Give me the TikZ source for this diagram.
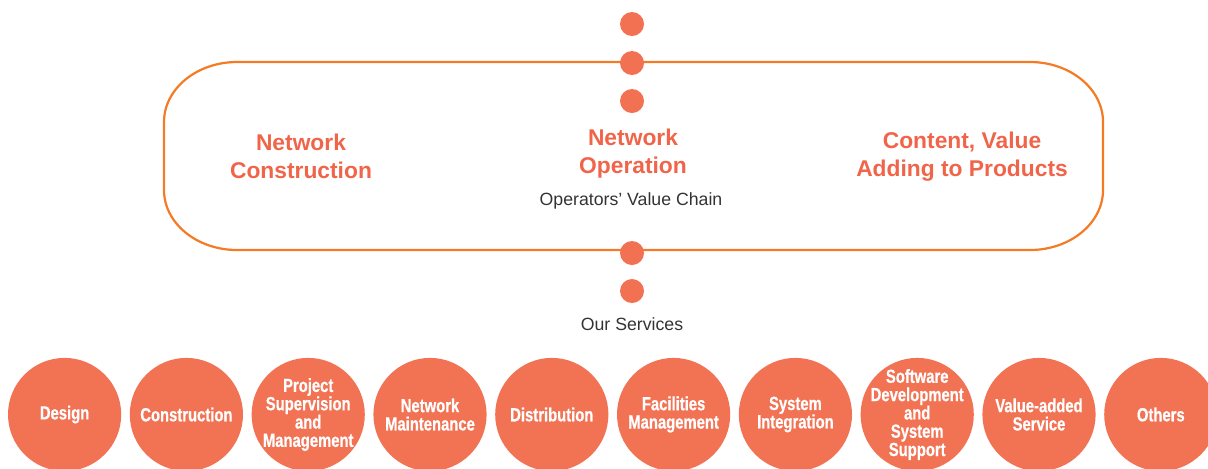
\documentclass[tikz,border=0pt]{standalone}
\usepackage{fontspec}
\setmainfont{Liberation Sans}
\newfontfamily\condfont[FakeStretch=0.78,FakeBold=0.6]{Liberation Sans}
\definecolor{outl}{HTML}{F47A24}
\definecolor{dotc}{HTML}{F37153}
\definecolor{headc}{HTML}{F0654A}
\definecolor{svcc}{HTML}{F27254}
\definecolor{greytext}{HTML}{333333}
\tikzset{
  dotnode/.style={circle,fill=dotc,inner sep=0pt,minimum size=12pt},
  headtext/.style={align=center,text=headc,font=\fontsize{11.4pt}{14pt}\selectfont\bfseries,inner sep=0pt},
  subtext/.style={text=greytext,font=\fontsize{8.85pt}{10pt}\selectfont,inner sep=0pt},
  svcnode/.style={circle,fill=svcc,inner sep=0pt,minimum size=56.6pt},
  svctext/.style={align=center,text=white,font=\condfont\bfseries\fontsize{9.5pt}{9.15pt}\selectfont,inner sep=0pt},
  chain/.style={draw=outl,line width=1.1pt}
}
\begin{document}
\begin{tikzpicture}[x=0.5pt,y=-0.5pt]
\useasboundingbox (0,0) rectangle (1208,468);
\clip (0,0) rectangle (1208,468);
% value chain outline
\draw[chain] (237,62) -- (1030,62) .. controls (1070.3,62) and (1103,88.9) .. (1103,122)
  -- (1103,190) .. controls (1103,223.1) and (1070.3,250) .. (1030,250)
  -- (237,250) .. controls (196.7,250) and (164,223.1) .. (164,190)
  -- (164,122) .. controls (164,88.9) and (196.7,62) .. cycle;
% dots
\node[dotnode] (d1) at (632,24) {};
\node[dotnode] (d2) at (632,63) {};
\node[dotnode] (d3) at (632,101) {};
\node[dotnode] (d4) at (632,253) {};
\node[dotnode] (d5) at (632,291) {};
% headings
\node[headtext] (h1) at (301,156.5) {Network\\Construction};
\node[headtext] (h2) at (633,153.5) {Network\\Operation};
\node[headtext] (h3) at (962,156.5) {Content, Value\\Adding to Products};
\node[subtext] (chainlbl) at (631,201) {Operators’ Value Chain};
\node[subtext] (svclbl) at (632,324) {Our Services};
% services
\foreach \i/\t in {0/Design,1/Construction,2/{Project\\Supervision\\and\\Management},3/{Network\\Maintenance},4/Distribution,5/{Facilities\\Management},6/{System\\Integration},7/{Software\\Development\\and\\System\\Support},8/{Value-added\\Service},9/Others}{
  \node[svcnode] (s\i) at ({64.6+121.8*\i},414.5) {};
  \node[svctext] (t\i) at (s\i.center) {\t};
}
\end{tikzpicture}
\end{document}
